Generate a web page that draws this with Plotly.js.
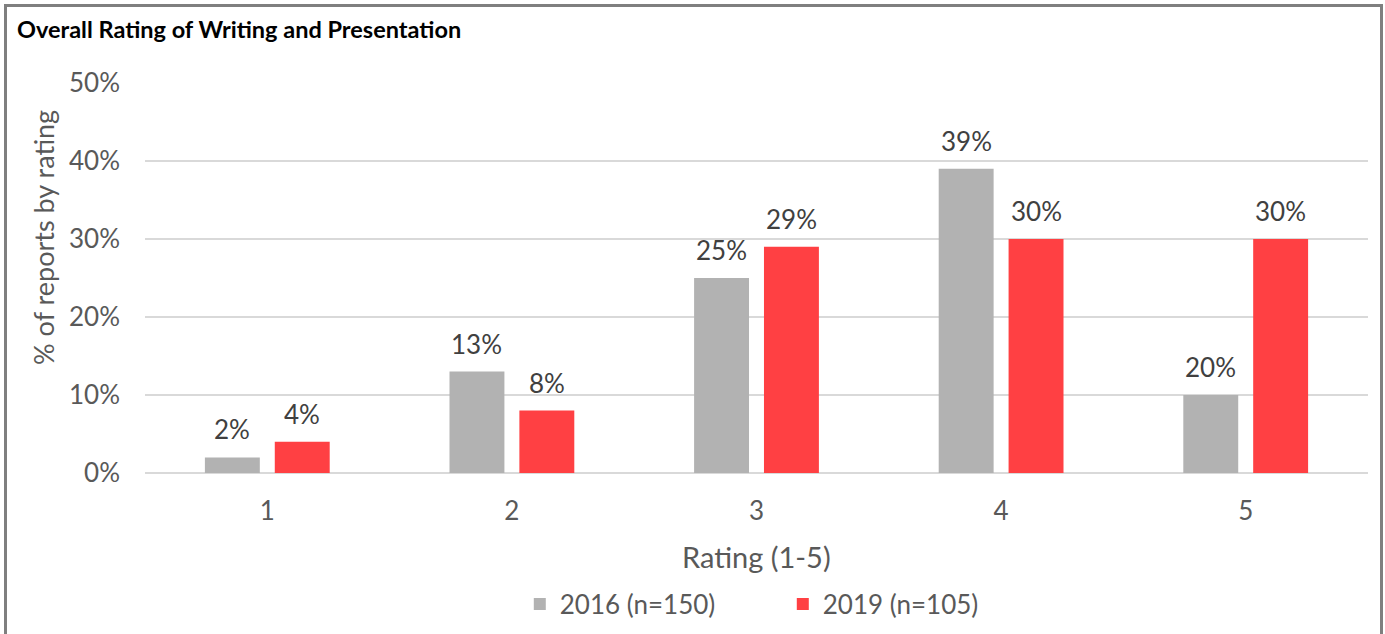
<!DOCTYPE html>
<html>
<head>
<meta charset="utf-8">
<script src="https://cdn.plot.ly/plotly-3.0.1.min.js"></script>
<style>
  html, body { margin: 0; padding: 0; background: #ffffff; overflow: hidden; }
  #chart { position: absolute; left: 0; top: 0; width: 1385px; height: 634px; }
  #frame { position: absolute; left: 4px; top: 4px; width: 1379px; height: 640px;
           box-sizing: border-box; border: 3px solid #7f7f7f; border-bottom: none; pointer-events: none; }
</style>
</head>
<body>
<div id="chart"></div>
<div id="frame"></div>
<script>
const categories = ['1', '2', '3', '4', '5'];
const values2016 = [2, 13, 25, 39, 10];
const labels2016 = ['2%', '13%', '25%', '39%', '20%'];
const values2019 = [4, 8, 29, 30, 30];
const labels2019 = ['4%', '8%', '29%', '30%', '30%'];
const seriesNames = ['2016 (n=150)', '2019 (n=105)'];
const yTickVals = [0, 10, 20, 30, 40, 50];
const yTickText = ['0%', '10%', '20%', '30%', '40%', '50%'];

const FONT = 'Lato, "Open Sans", sans-serif';
const TITLE_FONT = 'Lato, Roboto, sans-serif';

const traces = [
  { type: 'bar', name: seriesNames[0], x: categories, y: values2016,
    marker: { color: '#B2B2B2' }, hoverinfo: 'none' },
  { type: 'bar', name: seriesNames[1], x: categories, y: values2019,
    marker: { color: '#FF4043' }, hoverinfo: 'none' }
];

const annotations = [];
categories.forEach((c, i) => {
  annotations.push({ x: i, y: values2016[i], text: labels2016[i], xref: 'x', yref: 'y',
    xshift: -35, yshift: 10, yanchor: 'bottom', showarrow: false,
    font: { family: FONT, size: 26, color: '#404040' } });
  annotations.push({ x: i, y: values2019[i], text: labels2019[i], xref: 'x', yref: 'y',
    xshift: 35, yshift: 10, yanchor: 'bottom', showarrow: false,
    font: { family: FONT, size: 26, color: '#404040' } });
});
annotations.push({ text: '% of reports by rating', xref: 'paper', yref: 'paper',
  x: -0.0835, y: 0.605, xanchor: 'center', yanchor: 'middle', textangle: -90, showarrow: false,
  font: { family: FONT, size: 27, color: '#595959' } });
annotations.push({ text: 'Rating (1-5)', xref: 'paper', yref: 'paper',
  x: 0.5, y: -0.213, xanchor: 'center', yanchor: 'middle', showarrow: false,
  font: { family: FONT, size: 29, color: '#595959' } });
annotations.push({ text: '<b>Overall Rating of Writing and Presentation</b>', xref: 'paper', yref: 'paper',
  x: -0.1067, y: 1.138, xanchor: 'left', yanchor: 'middle', showarrow: false,
  font: { family: TITLE_FONT, size: 23.5, color: '#000000' } });

const layout = {
  width: 1385, height: 634,
  margin: { l: 145, r: 17, t: 83, b: 161, pad: 0 },
  paper_bgcolor: '#ffffff', plot_bgcolor: '#ffffff',
  barmode: 'group', bargap: 0.4286, bargroupgap: 0.214,
  showlegend: true,
  legend: { orientation: 'h', x: 0.5215, xanchor: 'center', yref: 'container', y: 0.0473, yanchor: 'middle',
    font: { family: FONT, size: 26, color: '#595959' }, itemwidth: 30, entrywidth: 218 },
  xaxis: { type: 'category', range: [-0.5, 4.5], showgrid: false, zeroline: false, showline: false,
    ticks: '', ticklabelstandoff: 20, tickfont: { family: FONT, size: 26, color: '#595959' } },
  yaxis: { range: [0, 50], tickvals: yTickVals, ticktext: yTickText, showgrid: true,
    gridcolor: '#D9D9D9', gridwidth: 2, zeroline: true, zerolinecolor: '#D9D9D9', zerolinewidth: 2,
    showline: false, ticks: '', ticklabelstandoff: 24,
    tickfont: { family: FONT, size: 26, color: '#595959' } },
  annotations: annotations
};

Plotly.newPlot('chart', traces, layout, { displayModeBar: false, staticPlot: true });
</script>
</body>
</html>
